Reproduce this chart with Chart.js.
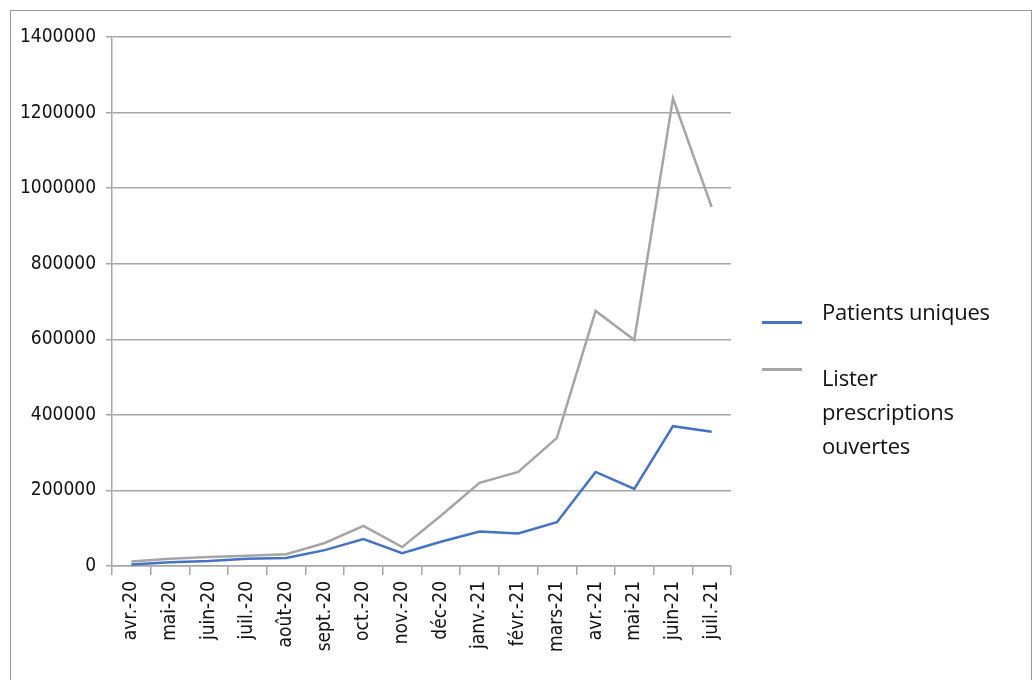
<!DOCTYPE html>
<html>
<head>
<meta charset="utf-8">
<script src="https://cdn.jsdelivr.net/npm/chart.js@4.4.1/dist/chart.umd.min.js"></script>
<style>
  body { margin: 0; background: #fff; }
  .frame { position: absolute; left: 10px; top: 10px; width: 1020px; height: 700px; border: 1.5px solid #9a9a9a; }
  #wrap { position: absolute; left: 0; top: 0; width: 1034px; height: 680px; }
  .legend { position: absolute; left: 762px; top: 0; font-family: "Open Sans", sans-serif; font-size: 22px; color: #111; }
  .item { position: absolute; left: 0; white-space: nowrap; }
  .swatch { position: absolute; left: 0; width: 40px; height: 3px; }
  .label { position: absolute; left: 60px; line-height: 34px; letter-spacing: -0.2px; }
</style>
</head>
<body>
<div class="frame"></div>
<div id="wrap"><canvas id="myChart" width="1034" height="680"></canvas></div>
<div class="legend"></div>
<script>
const months = [
  'avr.-20', 'mai-20', 'juin-20', 'juil.-20', 'août-20', 'sept.-20', 'oct.-20', 'nov.-20',
  'déc-20', 'janv.-21', 'févr.-21', 'mars-21', 'avr.-21', 'mai-21', 'juin-21', 'juil.-21'
];

const patientsUniques = [
  4000, 10000, 13000, 19000, 21000, 42000, 71000, 34000,
  64000, 91000, 86000, 116000, 249000, 204000, 370000, 355000
];

const listerPrescriptions = [
  12000, 19000, 24000, 27000, 31000, 61000, 106000, 50000,
  133000, 220000, 249000, 339000, 675000, 598000, 1238000, 950000
];

const legendNames = [
  ['Patients uniques'],
  ['Lister', 'prescriptions', 'ouvertes']
];

const gridGray = '#a6a6a6';

const ctx = document.getElementById('myChart').getContext('2d');

const chart = new Chart(ctx, {
  type: 'line',
  data: {
    labels: months,
    datasets: [{
      label: 'Patients uniques',
      data: patientsUniques,
      borderColor: '#4472c4',
      borderWidth: 2.5,
      pointRadius: 0,
      fill: false
    }, {
      label: 'Lister prescriptions ouvertes',
      data: listerPrescriptions,
      borderColor: '#a5a5a5',
      borderWidth: 2.5,
      pointRadius: 0,
      fill: false
    }]
  },
  options: {
    responsive: false,
    animation: false,
    layout: { padding: { left: 0, top: 37, right: 303, bottom: 0 } },
    plugins: {
      legend: { display: false },
      tooltip: { enabled: false }
    },
    scales: {
      x: {
        offset: true,
        grid: { offset: true, drawOnChartArea: false, color: gridGray, lineWidth: 1.5, tickLength: 9 },
        border: { color: gridGray, width: 1.5 },
        ticks: {
          minRotation: 90, maxRotation: 90, padding: 6,
          color: '#111',
          font: { family: 'DejaVu Sans Condensed', size: 19 }
        },
        afterFit: scale => { scale.height = 114; }
      },
      y: {
        min: 0,
        max: 1400000,
        ticks: {
          stepSize: 200000, padding: 10,
          color: '#111',
          font: { family: 'DejaVu Sans Condensed', size: 19 },
          callback: value => String(value)
        },
        grid: { color: gridGray, lineWidth: 1.5, tickLength: 6 },
        border: { color: gridGray, width: 1.5 },
        afterFit: scale => { scale.width = 112; }
      }
    }
  }
});

// legend on the right, built from the datasets
const legend = document.querySelector('.legend');
const legendTops = [294, 360];
chart.data.datasets.forEach(function(ds, i) {
  const item = document.createElement('div');
  item.className = 'item';
  item.style.top = legendTops[i] + 'px';
  item.innerHTML = `<div class="swatch" style="top:${i === 0 ? 27 : 8}px;background:${ds.borderColor}"></div>` +
    `<div class="label">${legendNames[i].join('<br>')}</div>`;
  legend.append(item);
});
</script>
</body>
</html>
